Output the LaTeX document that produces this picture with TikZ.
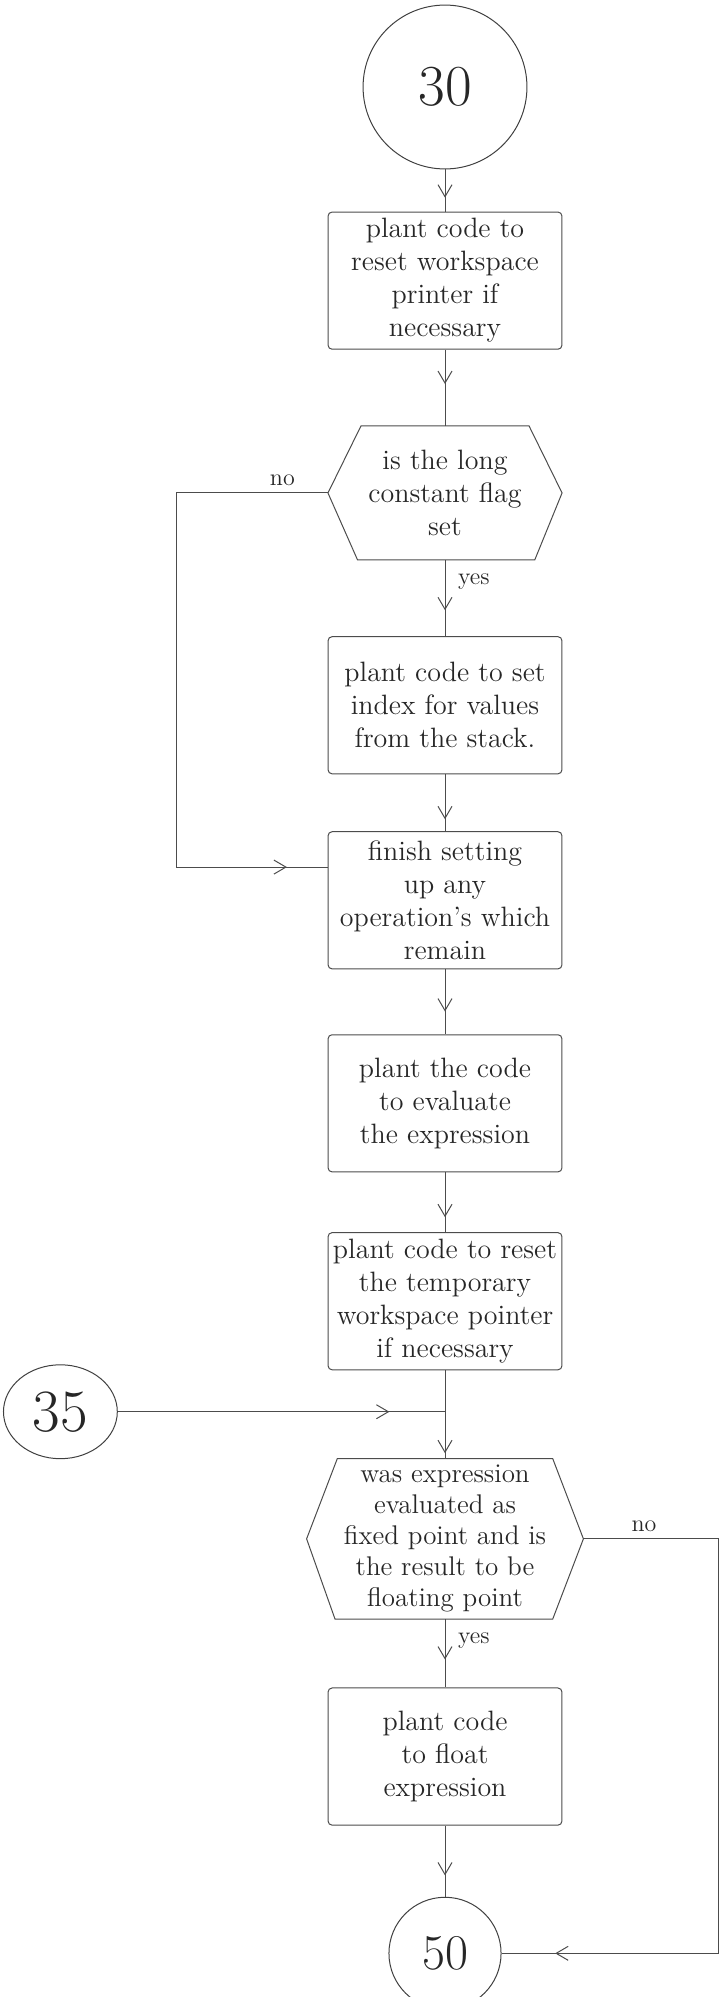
\documentclass[tikz,border=0pt]{standalone}
\usepackage{tikz}
\usetikzlibrary{shapes.geometric, arrows.meta, positioning, calc, decorations.markings}

\begin{document}
\begin{tikzpicture}[
    conn/.style={circle, draw=black!75, line width=0.5pt, text=black!85, font=\fontsize{29}{33}\selectfont, inner sep=0pt},
    process/.style={rectangle, minimum width=4.11cm, minimum height=2.41cm, text centered, draw=black!70, line width=0.5pt, rounded corners=2pt, text=black!85, font=\fontsize{14}{16.5}\selectfont, align=center, inner sep=2pt},
    decision/.style={rectangle, minimum width=4.1cm, minimum height=2.34cm, text centered, text=black!85, font=\fontsize{14}{16.5}\selectfont, align=center, inner sep=2pt},
    hexline/.style={draw=black!70, line width=0.5pt},
    answer/.style={font=\fontsize{12}{14}\selectfont, text=black!85},
    arrow/.style={draw=black!70, line width=0.5pt, postaction={decorate}, decoration={markings, mark=at position #1 with {\arrow{Straight Barb[length=6pt, width=7pt]}}}},
    arrow/.default=0.6
]
\useasboundingbox (0,0) rectangle (12.705,-35.093);

\node[conn, minimum size=2.88cm] (c30) at (7.82,-1.529) {30};
\node[process, below=0.74cm of c30] (reset) {plant code to\\reset workspace\\printer if\\necessary};
\node[decision, below=1.34cm of reset] (longflag) {is the long\\constant flag\\set};
\node[process, below=1.34cm of longflag] (setindex) {plant code to set\\index for values\\from the stack.};
\node[process, below=1.0cm of setindex] (finish) {finish setting\\up any\\operation's which\\remain};
\node[process, below=1.14cm of finish] (evaluate) {plant the code\\to evaluate\\the expression};
\node[process, below=1.05cm of evaluate] (resettemp) {plant code to reset\\the temporary\\workspace pointer\\if necessary};
\node[decision, minimum width=4.85cm, minimum height=2.81cm, font=\fontsize{13.5}{15.5}\selectfont, below=1.55cm of resettemp] (fixed) {was expression\\evaluated as\\fixed point and is\\the result to be\\floating point};
\node[process, below=1.2cm of fixed] (float) {plant code\\to float\\expression};
\node[conn, minimum size=1.97cm, font=\fontsize{25}{29}\selectfont, below=1.25cm of float] (c50) {50};
\coordinate (join) at ($(resettemp.south)!0.47!(fixed.north)$);
\node[conn, ellipse, minimum width=2.0cm, minimum height=1.65cm, font=\fontsize{30}{34}\selectfont, left=5.75cm of join] (c35) {35};

% Hexagon outlines
\draw[hexline] (longflag.west) -- ([xshift=0.58cm]longflag.north west) -- ([xshift=-0.58cm]longflag.north east) -- (longflag.east) -- ([xshift=-0.48cm]longflag.south east) -- ([xshift=0.52cm]longflag.south west) -- cycle;
\draw[hexline] (fixed.west) -- ([xshift=0.54cm]fixed.north west) -- ([xshift=-0.54cm]fixed.north east) -- (fixed.east) -- ([xshift=-0.54cm]fixed.south east) -- ([xshift=0.5cm]fixed.south west) -- cycle;

% Connectors
\draw[arrow=0.67] (c30) -- (reset);
\draw[arrow=0.45] (reset) -- (longflag);
\draw[arrow=0.66] (longflag) -- node[answer, right, pos=0.28, xshift=3pt] {yes} (setindex);
\draw[arrow=0.94] (longflag.west) -- node[answer, above, pos=0.3] {no} ++(-2.67,0) |- ([yshift=-0.63cm]finish.north west);
\draw[arrow=0.79] (setindex) -- (finish);
\draw[arrow=0.65] (finish) -- (evaluate);
\draw[arrow=0.75] (evaluate) -- (resettemp);
\draw[arrow=0.94] (resettemp) -- (fixed);
\draw[arrow=0.83] (c35) -- (join);
\draw[arrow=0.59] (fixed) -- node[answer, right, pos=0.32, xshift=3pt] {yes} (float);
\draw[arrow=0.7] (float) -- (c50);
\draw[arrow=0.93] (fixed.east) -- node[answer, above, pos=0.45] {no} ++(2.37,0) |- (c50.east);

\end{tikzpicture}
\end{document}
